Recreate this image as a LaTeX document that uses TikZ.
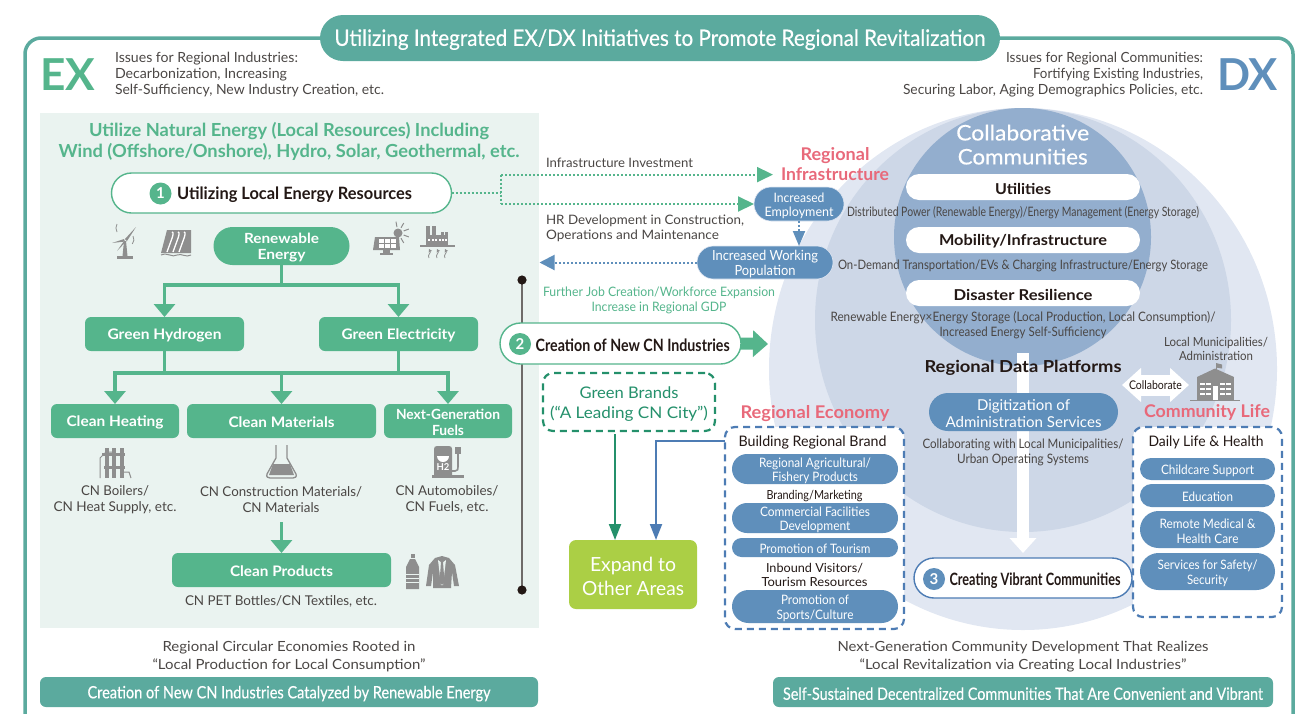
\documentclass[tikz,border=0pt]{standalone}
\usepackage{fontspec}
\usepackage{graphicx}
\setmainfont{Lato}
\newfontfamily\med[FakeBold=0.35]{Lato}
\usetikzlibrary{arrows.meta,shapes.misc}
\definecolor{teal0}{HTML}{5BAA9E}
\definecolor{gr}{HTML}{55B58C}
\definecolor{dgr}{HTML}{24906B}
\definecolor{panel}{HTML}{EAF3F0}
\definecolor{bl}{HTML}{5F8FBB}
\definecolor{dbl}{HTML}{4D7CB4}
\definecolor{pink0}{HTML}{E8697A}
\definecolor{lime0}{HTML}{ABCF45}
\definecolor{c1}{HTML}{E1E7F2}
\definecolor{c2}{HTML}{CDD7E7}
\definecolor{c3}{HTML}{93AECE}
\definecolor{ink}{HTML}{4A4644}
\definecolor{blk}{HTML}{231815}
\definecolor{icn}{HTML}{8E8E8E}
\newcommand\fz[2]{\fontsize{#1}{#2}\selectfont}
\newcommand\fw[2]{{\setbox0=\hbox{#2}\pgfmathsetmacro\fwr{#1/\the\wd0}\raisebox{-1.6pt}[\ht0][\dp0]{\scalebox{\fwr}[1]{\copy0}}}}
\tikzset{
 x=1pt,y=-1pt,
 tx/.style={inner sep=0,outer sep=0,align=center,text=ink},
 gbox/.style={rectangle,rounded corners=6,fill=gr,text=white,inner sep=0,outer sep=0,align=center},
 wpill/.style={rounded rectangle,fill=white,inner sep=0,outer sep=0,align=center,text=blk},
 bpill/.style={rounded rectangle,fill=bl,inner sep=0,outer sep=0,align=center,text=white},
 num/.style={circle,minimum size=22,inner sep=0,outer sep=0,text=white,font=\fz{15}{15}\bfseries},
 garr/.style={draw=gr,line width=3.2,-{Triangle[length=13,width=21]}},
 gline/.style={draw=gr,line width=3.2},
 gdot/.style={draw=gr,line width=2,dash pattern=on 2 off 2},
 bdot/.style={draw=bl,line width=2,dash pattern=on 2 off 2},
 dash box/.style={rectangle,rounded corners=10,fill=white,line width=2.2,dash pattern=on 7 off 5,inner sep=0,outer sep=0},
}
\begin{document}
\begin{tikzpicture}
\useasboundingbox (0,0) rectangle (1316,713);
\clip (0,0) rectangle (1316,713);
% frame
\draw[teal0,line width=3.5,rounded corners=16] (25,38) rectangle (1293,730);
\node[rounded rectangle,fill=teal0,minimum width=680,minimum height=46,inner sep=0,outer sep=0,text=white,font=\fz{22.5}{22}\med] (title) at (660,38) {\fw{651}{Utilizing Integrated EX/DX Initiatives to Promote Regional Revitalization}};
\node[tx,text=gr,font=\fz{44}{44}\bfseries] (ex) at (68,72.5) {\fw{55}{EX}};
\node[tx,text=bl,font=\fz{44}{44}\bfseries] (dx) at (1247.5,72.5) {\fw{61}{DX}};
\node[tx,anchor=west,align=left,font=\fz{14}{16}] (issl) at (115,73) {\fw{183}{Issues for Regional Industries:}\\\fw{172}{Decarbonization, Increasing}\\\fw{269}{Self-Sufficiency, New Industry Creation, etc.}};
\node[tx,anchor=east,align=right,font=\fz{14}{16}] (issr) at (1203,73) {\fw{197}{Issues for Regional Communities:}\\\fw{170}{Fortifying Existing Industries,}\\\fw{300}{Securing Labor, Aging Demographics Policies, etc.}};
% panel
\fill[panel] (39.5,113) rectangle (539,628);
\node[tx,text=gr,font=\fz{18}{21}\bfseries] (hdr) at (289,140) {\fw{400}{Utilize Natural Energy (Local Resources) Including}\\\fw{461}{Wind (Offshore/Onshore), Hydro, Solar, Geothermal, etc.}};
% circles
\fill[c1] (1023,369) ellipse [x radius=254,y radius=261];
\fill[c2] (1023,320) ellipse [x radius=208,y radius=212];
\fill[c3] (1022.5,237) ellipse [x radius=128.5,y radius=129];
% left tree
\node[draw=gr,line width=1.4,wpill,minimum width=340,minimum height=40] (p1) at (281.5,193) {};
\node[num,fill=gr] (n1) at (160.5,193.5) {1};
\node[tx,text=blk,font=\fz{17}{17}\bfseries] (p1t) at (294.5,193) {\fw{235}{Utilizing Local Energy Resources}};
\node[rounded rectangle,fill=gr,text=white,inner sep=0,outer sep=0,align=center,minimum width=136,minimum height=38,font=\fz{14}{16}\bfseries] (re) at (281.5,246) {\fw{75}{Renewable}\\\fw{48}{Energy}};
\node[gbox,minimum width=159,minimum height=34,font=\fz{14.5}{16}\bfseries] (gh) at (164.5,334) {\fw{114}{Green Hydrogen}};
\node[gbox,minimum width=159,minimum height=34,font=\fz{14.5}{16}\bfseries] (ge) at (398.5,334) {\fw{114}{Green Electricity}};
\node[gbox,minimum width=128,minimum height=34,font=\fz{14.5}{16}\bfseries] (ch) at (115,421) {\fw{97}{Clean Heating}};
\node[gbox,minimum width=189,minimum height=34,font=\fz{14.5}{16}\bfseries] (cm) at (281.5,421) {\fw{106}{Clean Materials}};
\node[gbox,minimum width=128,minimum height=34,font=\fz{14}{16}\bfseries] (nf) at (448,421) {\fw{104}{Next-Generation}\\\fw{32}{Fuels}};
\node[gbox,minimum width=219,minimum height=34,font=\fz{14.5}{16}\bfseries] (cp) at (281.5,570) {\fw{103}{Clean Products}};
\coordinate (j1) at (281.5,285);
\coordinate (j2) at (281.5,373);
\draw[gline] (re) -- (j1);
\draw[gline,line cap=rect] (j1 -| gh.north) -- (j1 -| ge.north);
\draw[garr] (j1 -| gh.north) -- (gh.north);
\draw[garr] (j1 -| ge.north) -- (ge.north);
\draw[gline] (gh.south) -- (gh.south |- j2);
\draw[gline] (ge.south) -- (ge.south |- j2);
\draw[gline,line cap=rect] (j2 -| ch.north) -- (j2 -| nf.north);
\draw[garr] (j2 -| ch.north) -- (ch.north);
\draw[garr] (j2) -- (cm.north);
\draw[garr] (j2 -| nf.north) -- (nf.north);
\node[tx,font=\fz{13.5}{15.5}] (l1) at (115,498) {\fw{68}{CN Boilers/}\\\fw{123}{CN Heat Supply, etc.}};
\node[tx,font=\fz{13.5}{15.5}] (l2) at (281,498) {\fw{162}{CN Construction Materials/}\\\fw{77}{CN Materials}};
\node[tx,font=\fz{13.5}{15.5}] (l3) at (447,498) {\fw{103}{CN Automobiles/}\\\fw{83}{CN Fuels, etc.}};
\coordinate (c0) at (281.5,522);
\draw[garr] (c0) -- (cp.north);
\node[tx,font=\fz{13.5}{15.5}] (l4) at (281,600) {\fw{192}{CN PET Bottles/CN Textiles, etc.}};
% icons: wind
\begin{scope}[icn]
\fill (124,241) -- (126,241) -- (127.5,256) -- (122.5,256) -- cycle;
\fill (117,256) rectangle (133,258.5);
\fill (125,239) -- (136,227) -- (127,241) -- cycle;
\fill (124,239) -- (112,243) -- (125,241.5) -- cycle;
\fill (124,241) -- (117,251) -- (126.5,241) -- cycle;
\draw[line width=.8] (133,236) arc (-30:40:7);
\draw[line width=.8] (117,232) arc (150:210:8);
% hydro dam
\fill (167,230) -- (191,230) -- (191,253) -- (161,253) -- cycle;
\foreach \a in {172,178,184}{\draw[white,line width=1.3] (\a,232) .. controls (\a+2,232) and (\a+1,236) .. (\a-1,241) -- (\a-5,252);}
\draw[line width=1] (161,255) .. controls (168,252) and (172,258) .. (177,255) .. controls (182,253) and (186,258) .. (191,255);
% solar
\fill (375,237) -- (399,237) -- (400,250) -- (373,250) -- cycle;
\foreach \a in {379,385,391}{\foreach \b in {239,244}{\fill[white] (\a,\b) rectangle +(5,3.6);}}
\fill (383,250) rectangle (390,253);
\fill (380,253) rectangle (393,255);
\fill (398,233) circle (4.5);
\foreach \a in {-100,-60,-20,20,60}{\draw[line width=1] (398,233) ++(\a:6) -- ++(\a:5.5);}
% geothermal
\fill (426,226) rectangle (430,236);
\fill (432,226) rectangle (436,236);
\fill (426,235) rectangle (448,246);
\fill (441,232) rectangle (444,235);
\fill (445,232) rectangle (448,235);
\fill (420,244.5) rectangle (455,246.5);
\foreach \a in {428,431.5,435,438.5,442,445}{\fill[white] (\a,238.5) rectangle +(2,2);}
\foreach \a in {429,437,445}{\draw[line width=.8,-{Triangle[length=3,width=3.5]}] (\a,258) .. controls (\a-2,255) and (\a+2,253) .. (\a,249);}
% boiler
\draw[line width=1] (100,478) -- (100,458) -- (106,452) -- (112,452);
\foreach \a in {107,114,122}{\fill (\a-2,448) rectangle (\a+2,478);}
\fill (102,453) rectangle (125,456);
\fill (104,466) rectangle (125,469);
\draw[line width=1] (124,472) -- (129,472) -- (131,478);
% flask
\draw[line width=1.3] (276,445) -- (276,458) -- (267,474) .. controls (266,477) and (268,478) .. (270,478) -- (293,478) .. controls (295,478) and (297,477) .. (296,474) -- (287,458) -- (287,445);
\fill (273,464) -- (290,464) -- (294,475) -- (269,475) -- cycle;
% pump
\fill (434,449) .. controls (434,447) and (435,446) .. (437,446) -- (449,446) .. controls (451,446) and (452,447) .. (452,449) -- (452,475) -- (434,475) -- cycle;
\fill (432,475) rectangle (464,478);
\fill[white] (443,456) ++(-6,0) arc (180:0:6) -- cycle;
\node[tx,text=white,font=\fz{9.5}{10}\bfseries] (h2) at (443,467) {H2};
\draw[line width=1.6] (452,471) -- (455,471) .. controls (458,471) and (458,469) .. (458,467) -- (458,453);
\fill (455,446.5) rectangle (461,454);
% bottle
\fill (410.5,554) rectangle (414.5,558);
\fill (410,559) -- (415,559) -- (419,567) -- (419,589) -- (406,589) -- (406,567) -- cycle;
\foreach \b in {574,578,582}{\draw[panel,line width=.9] (406,\b) -- (419,\b);}
% shirt
\fill (435,558) -- (442,556) -- (449,558) -- (455,565) -- (459,586) -- (454,586) -- (452,572) -- (451,588) -- (433,588) -- (433,572) -- (431,586) -- (426,586) -- (429,565) -- cycle;
\fill[panel] (438,560) -- (442,563) -- (446,560) -- (443,585) -- (441,585) -- cycle;
\fill (441,562) -- (443,562) -- (444.5,582) -- (442,585) -- (439.5,582) -- cycle;
\end{scope}
% spine
\coordinate (st) at (522,280);
\coordinate (sb) at (522,590);
\draw[draw=ink!80,line width=2] (st) -- (sb);
\fill[blk] (st) circle (4.6);
\fill[blk] (sb) circle (4.6);
% middle
\node[bpill,draw=c1,line width=.6,minimum width=90,minimum height=34,font=\fz{13}{14}] (emp) at (799,204) {\fw{51}{Increased}\\\fw{69}{Employment}};
\node[bpill,draw=c1,line width=.6,minimum width=136,minimum height=33,font=\fz{14}{15}] (pop) at (765,262.5) {\fw{106}{Increased Working}\\\fw{61}{Population}};
\coordinate (j3) at (501,193);
\coordinate (t1) at (773,174.6);
\coordinate (t2) at (539.5,262.5);
\draw[gdot] (p1.east) -- (j3);
\draw[gdot] (t1 -| j3) -- (j3 |- emp);
\draw[gdot,-{Triangle[length=16,width=15,fill=gr]}] (t1 -| j3) -- (t1);
\draw[gdot,-{Triangle[length=16,width=15,fill=gr]}] (j3 |- emp) -- (emp.west);
\draw[bdot,-{Triangle[length=15,width=12,fill=bl]}] (emp.south) -- (emp.south |- pop.north);
\draw[bdot,-{Triangle[length=15,width=15,fill=bl]}] (pop.west) -- (t2);
\node[tx,anchor=west,font=\fz{13}{15}] (inv) at (546,161) {\fw{147}{Infrastructure Investment}};
\node[tx,anchor=west,align=left,font=\fz{13}{15}] (hr) at (546,226.5) {\fw{198}{HR Development in Construction,}\\\fw{173}{Operations and Maintenance}};
\node[tx,text=gr,font=\fz{13}{15}] (job) at (659,298.5) {\fw{232}{Further Job Creation/Workforce Expansion}\\\fw{135}{Increase in Regional GDP}};
\node[tx,text=pink0,font=\fz{17.5}{20}\bfseries] (rit) at (835,162.5) {\fw{69}{Regional}\\\fw{108}{Infrastructure}};
\node[draw=gr,line width=1.4,wpill,minimum width=241,minimum height=41] (p2) at (620.5,343.5) {};
\node[num,fill=gr] (n2) at (520,344) {2};
\node[tx,text=blk,font=\fz{17}{17}\bfseries] (p2t) at (632.7,344) {\fw{194}{Creation of New CN Industries}};
\coordinate (p2e) at (768,344);
\draw[gr,line width=12,-{Triangle[length=15,width=26]}] (p2.east) -- (p2e);
\node[draw=dgr,dash box,minimum width=172,minimum height=58,text=dgr,align=center,font=\fz{16}{20}] (gb) at (629,402) {\fw{99}{Green Brands}\\\fw{158}{(“A Leading CN City”)}};
\node[rectangle,rounded corners=7,fill=lime0,text=white,inner sep=0,outer sep=0,align=center,minimum width=128,minimum height=69,font=\fz{19.5}{24}] (exp) at (633,574.5) {\fw{86}{Expand to}\\\fw{102}{Other Areas}};
% circle content
\node[tx,text=white,font=\fz{21.5}{24}\med] (cc) at (1022.7,143) {\fw{133}{Collaborative}\\\fw{130}{Communities}};
\node[wpill,minimum width=234,minimum height=26,font=\fz{15}{15}\bfseries] (u) at (1023,187) {\fw{56}{Utilities}};
\node[wpill,minimum width=234,minimum height=26,font=\fz{15}{15}\bfseries] (m) at (1023,240) {\fw{168}{Mobility/Infrastructure}};
\node[wpill,minimum width=234,minimum height=26,font=\fz{15}{15}\bfseries] (d) at (1023,293) {\fw{139}{Disaster Resilience}};
\node[tx,font=\fz{13}{15}] (ut) at (1023,211) {\fw{352}{Distributed Power (Renewable Energy)/Energy Management (Energy Storage)}};
\node[tx,font=\fz{13}{15}] (mt) at (1023,264) {\fw{370}{On-Demand Transportation/EVs \& Charging Infrastructure/Energy Storage}};
\node[tx,font=\fz{13}{15}] (dt) at (1023,323.5) {\fw{385}{Renewable Energy×Energy Storage (Local Production, Local Consumption)/}\\\fw{167}{Increased Energy Self-Sufficiency}};
\coordinate (wt) at (1023,353);
\coordinate (wb) at (1023,553);
\draw[white,line width=12,-{Triangle[length=15,width=26]}] (wt) -- (wb);
\node[tx,text=blk,font=\fz{16.5}{17}\bfseries] (rdp) at (1023,366) {\fw{197}{Regional Data Platforms}};
\node[bpill,minimum width=189,minimum height=38,font=\fz{15}{17}] (dig) at (1023.5,412) {\fw{93}{Digitization of}\\\fw{156}{Administration Services}};
\node[tx,font=\fz{13}{15}] (col) at (1023,450.5) {\fw{201}{Collaborating with Local Municipalities/}\\\fw{132}{Urban Operating Systems}};
\node[tx,font=\fz{12.5}{14}] (lm) at (1216,347) {\fw{104}{Local Municipalities/}\\\fw{74}{Administration}};
\coordinate (ca) at (1122,385);
\coordinate (cb) at (1189,385);
\draw[white,line width=21,{Triangle[length=19,width=33]}-{Triangle[length=19,width=33]}] (ca) -- (cb);
\node[tx,text=blk,font=\fz{12}{12}] (clb) at (1155.5,384) {\fw{53}{Collaborate}};
% municipal building
\begin{scope}[icn]
\fill (1197,377) rectangle (1234,399.5);
\fill (1197,377) -- (1215,368.5) -- (1234,377) -- cycle;
\draw[line width=.9] (1216,370) -- (1216,363);
\fill (1216,363) -- (1222,364.5) -- (1222,368.5) -- (1216,367.5) -- cycle;
\fill (1190,399.5) rectangle (1240,400.7);
\foreach \a in {1200,1206,1220,1226}{\foreach \b in {382.5,387.5,392.5}{\fill[white] (\a,\b) rectangle +(4.5,2.2);}}
\fill[white] (1213,386) rectangle (1218,399.5);
\end{scope}
% pill 3
\node[draw=dbl,line width=1.4,wpill,minimum width=218,minimum height=40] (p3) at (1023,578) {};
\node[num,fill=bl] (n3) at (934,579) {3};
\node[tx,text=blk,font=\fz{17}{17}\bfseries] (p3t) at (1035,579) {\fw{171}{Creating Vibrant Communities}};
% economy
\node[tx,text=pink0,font=\fz{17.5}{18}\bfseries] (eco) at (815,412) {\fw{149}{Regional Economy}};
\node[draw=dbl,dash box,minimum width=179,minimum height=202] (ebox) at (814.5,528) {};
\node[tx,text=blk,font=\fz{14.5}{15}] (brb) at (812.5,441) {\fw{148}{Building Regional Brand}};
\node[bpill,minimum width=166,minimum height=30,font=\fz{13}{14}] (e1) at (815,469) {\fw{112}{Regional Agricultural/}\\\fw{86}{Fishery Products}};
\node[tx,text=blk,font=\fz{12.5}{12}] (e2) at (814.5,494) {\fw{96}{Branding/Marketing}};
\node[bpill,minimum width=166,minimum height=30,font=\fz{13}{14}] (e3) at (815,518) {\fw{110}{Commercial Facilities}\\\fw{71}{Development}};
\node[bpill,minimum width=166,minimum height=19,font=\fz{13}{14}] (e4) at (815,547.5) {\fw{111}{Promotion of Tourism}};
\node[tx,text=blk,font=\fz{12.5}{14}] (e5) at (814.5,573) {\fw{97}{Inbound Visitors/}\\\fw{106}{Tourism Resources}};
\node[bpill,minimum width=166,minimum height=33,font=\fz{13}{15}] (e6) at (815,606.5) {\fw{68}{Promotion of}\\\fw{77}{Sports/Culture}};
% community
\node[tx,text=pink0,font=\fz{17.5}{18}\bfseries] (cl) at (1207,411) {\fw{126}{Community Life}};
\node[draw=dbl,dash box,minimum width=149,minimum height=190] (cbox) at (1207.5,522) {};
\node[tx,text=blk,font=\fz{14.5}{15}] (dlh) at (1206,441) {\fw{115}{Daily Life \& Health}};
\node[bpill,minimum width=135,minimum height=22,font=\fz{13}{14}] (q1) at (1207.5,469) {\fw{93}{Childcare Support}};
\node[bpill,minimum width=135,minimum height=23,font=\fz{13}{14}] (q2) at (1207.5,495.5) {\fw{51}{Education}};
\node[bpill,minimum width=135,minimum height=37,font=\fz{13}{15}] (q3) at (1207.5,529.5) {\fw{96}{Remote Medical \&}\\\fw{62}{Health Care}};
\node[bpill,minimum width=135,minimum height=37,font=\fz{13}{15}] (q4) at (1207.5,571.5) {\fw{100}{Services for Safety/}\\\fw{41}{Security}};
% connectors to Expand
\coordinate (g0) at (615,434);
\draw[dgr,line width=2,-{Triangle[length=16,width=12]}] (g0) -- (exp.north -| g0);
\coordinate (bk) at (656,440.5);
\draw[dbl,line width=2,-{Triangle[length=16,width=12]}] (ebox.west |- bk) -- (bk) -- (exp.north -| bk);
% bottom
\node[tx,font=\fz{14}{18}] (bl1) at (289,655) {\fw{253}{Regional Circular Economies Rooted in}\\\fw{273}{“Local Production for Local Consumption”}};
\node[tx,font=\fz{14}{18}] (bl2) at (1023,655) {\fw{371}{Next-Generation Community Development That Realizes}\\\fw{327}{“Local Revitalization via Creating Local Industries”}};
\node[rectangle,rounded corners=6,fill=teal0,text=white,inner sep=0,outer sep=0,minimum width=498,minimum height=30,font=\fz{17}{16}\med] (b1) at (289,692) {\fw{403}{Creation of New CN Industries Catalyzed by Renewable Energy}};
\node[rectangle,rounded corners=6,fill=teal0,text=white,inner sep=0,outer sep=0,minimum width=500,minimum height=30,font=\fz{17}{16}\med] (b2) at (1023,692) {\fw{480}{Self-Sustained Decentralized Communities That Are Convenient and Vibrant}};
\end{tikzpicture}
\end{document}
